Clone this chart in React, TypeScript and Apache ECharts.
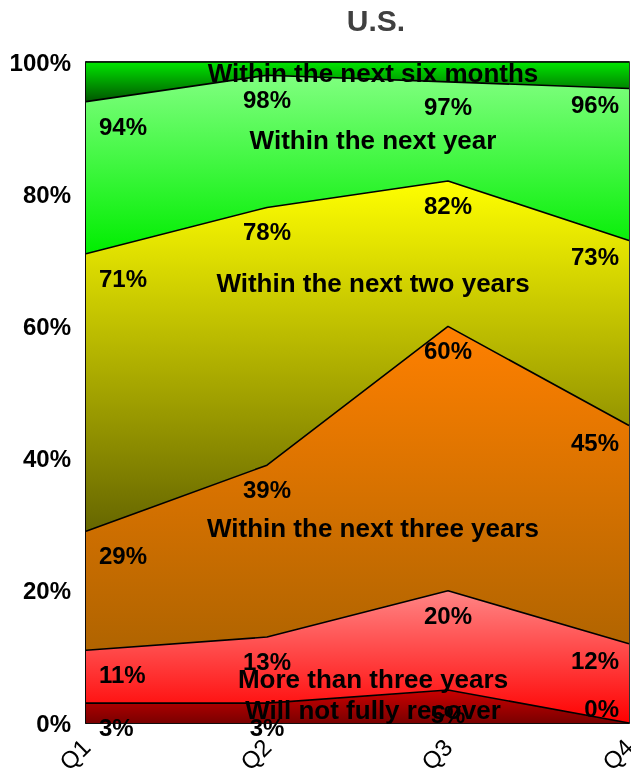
import React, { useEffect, useRef } from "react";
import * as echarts from "echarts";

const quarters = ["Q1", "Q2", "Q3", "Q4"];
// Cumulative top boundary of each band, as labelled on the chart (%)
const cumRecover = [3, 3, 5, 0];
const cumMoreThanThree = [11, 13, 20, 12];
const cumThreeYears = [29, 39, 60, 45];
const cumTwoYears = [71, 78, 82, 73];
const cumNextYear = [94, 98, 97, 96];
const cumSixMonths = [100, 100, 100, 100];
const yTicks = [0, 20, 40, 60, 80, 100];

const bandNames = [
  "Will not fully recover",
  "More than three years",
  "Within the next three years",
  "Within the next two years",
  "Within the next year",
  "Within the next six months",
];

const FONT = "'Liberation Sans', Arial, sans-serif";

export default function App() {
  const ref = useRef<HTMLDivElement>(null);

  useEffect(() => {
    if (!ref.current) return;
    const chart = echarts.init(ref.current, undefined, { renderer: "svg" });

    const cums = [cumRecover, cumMoreThanThree, cumThreeYears, cumTwoYears, cumNextYear, cumSixMonths];
    const bands = cums.map((c, i) => c.map((v, j) => (i === 0 ? v : v - cums[i - 1][j])));

    const gradients: [string, string][] = [
      ["#cc0000", "#7a0000"],
      ["#ff8585", "#ff0000"],
      ["#ff8000", "#b06400"],
      ["#ffff00", "#666600"],
      ["#80ff80", "#00ee00"],
      ["#00e600", "#005500"],
    ];

    const series = bands.map((band, i) => ({
      name: bandNames[i],
      type: "line",
      stack: "total",
      data: band.map((v, j) => {
        const cum = cums[i][j];
        const isFirst = j === 0;
        const isLast = j === quarters.length - 1;
        return {
          value: v,
          label: {
            show: i < bands.length - 1,
            formatter: `${cum}%`,
            position: cum === 0 ? "top" : "bottom",
            distance: cum === 0 ? 2 : isLast ? 4 : 12,
            align: isFirst ? "left" : isLast ? "right" : "center",
            offset: isFirst ? [13, 0] : isLast ? [-10, 0] : [0, 0],
          },
        };
      }),
      showSymbol: true,
      symbol: "circle",
      symbolSize: 1,
      itemStyle: { color: "rgba(0,0,0,0)" },
      lineStyle: { color: "#000", width: 1.6 },
      areaStyle: {
        opacity: 1,
        color: new echarts.graphic.LinearGradient(0, 0, 0, 1, [
          { offset: 0, color: gradients[i][0] },
          { offset: 1, color: gradients[i][1] },
        ]),
      },
      label: {
        color: "#000",
        fontSize: 24,
        fontWeight: "bold",
        fontFamily: FONT,
      },
      emphasis: { disabled: true },
      z: 2,
    }));

    const bandLabelY = [710, 679, 528, 283, 140, 73];
    const bandLabelSize = 26;

    chart.setOption({
      animation: false,
      title: {
        text: "U.S.",
        left: 371,
        top: 0,
        textAlign: "center",
        textStyle: { color: "#404040", fontSize: 30, fontWeight: "bold", fontFamily: FONT },
      },
      grid: {
        left: 86,
        right: 2,
        top: 62,
        bottom: 51,
        show: true,
        borderColor: "#000",
        borderWidth: 1.6,
        containLabel: false,
        outerBoundsMode: "none",
      },
      xAxis: {
        type: "category",
        data: quarters,
        boundaryGap: false,
        axisLine: { show: true, lineStyle: { color: "#000", width: 1.6 } },
        axisTick: { show: false },
        axisLabel: {
          rotate: 45,
          margin: 20,
          color: "#000",
          fontSize: 24,
          fontFamily: FONT,
        },
      },
      yAxis: {
        type: "value",
        min: yTicks[0],
        max: yTicks[yTicks.length - 1],
        interval: yTicks[1] - yTicks[0],
        splitLine: { show: false },
        axisLine: { show: true, lineStyle: { color: "#000", width: 1.6 } },
        axisTick: { show: false },
        axisLabel: {
          formatter: "{value}%",
          margin: 15,
          color: "#000",
          fontSize: 24,
          fontWeight: "bold",
          fontFamily: FONT,
        },
      },
      series,
      graphic: bandNames.map((name, i) => ({
        type: "text",
        x: 373,
        y: bandLabelY[i],
        z: 100,
        style: {
          text: name,
          fill: "#000",
          font: `bold ${bandLabelSize}px ${FONT}`,
          textAlign: "center",
          textVerticalAlign: "middle",
        },
      })),
    });

    return () => chart.dispose();
  }, []);

  return (
    <div
      ref={ref}
      style={{ position: "fixed", left: 0, top: 0, width: 631, height: 774 }}
    />
  );
}
